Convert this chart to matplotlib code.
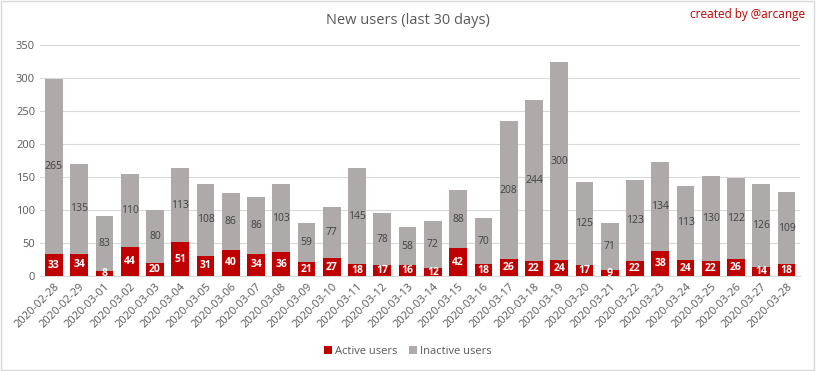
import matplotlib
matplotlib.use("Agg")
import matplotlib.pyplot as plt
import numpy as np

dates = ["2020-02-28", "2020-02-29", "2020-03-01", "2020-03-02", "2020-03-03", "2020-03-04",
         "2020-03-05", "2020-03-06", "2020-03-07", "2020-03-08", "2020-03-09", "2020-03-10",
         "2020-03-11", "2020-03-12", "2020-03-13", "2020-03-14", "2020-03-15", "2020-03-16",
         "2020-03-17", "2020-03-18", "2020-03-19", "2020-03-20", "2020-03-21", "2020-03-22",
         "2020-03-23", "2020-03-24", "2020-03-25", "2020-03-26", "2020-03-27", "2020-03-28"]
active = [33, 34, 8, 44, 20, 51, 31, 40, 34, 36, 21, 27, 18, 17, 16, 12, 42, 18,
          26, 22, 24, 17, 9, 22, 38, 24, 22, 26, 14, 18]
inactive = [265, 135, 83, 110, 80, 113, 108, 86, 86, 103, 59, 77, 145, 78, 58, 72, 88, 70,
            208, 244, 300, 125, 71, 123, 134, 113, 130, 122, 126, 109]
yticks = [0, 50, 100, 150, 200, 250, 300, 350]

plt.rcParams['font.family'] = ['Open Sans', 'DejaVu Sans']
RED = "#C00000"
GRAY = "#AEAAAA"
TXT = "#595959"

fig = plt.figure(figsize=(8.16, 3.71), dpi=100)
ax = fig.add_axes([0.049, 0.256, 0.932, 0.623])

x = np.arange(len(dates))
b1 = ax.bar(x, active, width=0.7, color=RED, label="Active users", zorder=3)
b2 = ax.bar(x, inactive, width=0.7, bottom=active, color=GRAY, label="Inactive users", zorder=3)

for xi, a, ina in zip(x, active, inactive):
    ax.text(xi, a / 2, str(a), ha="center", va="center", color="white",
            fontsize=7.5, fontweight="bold", zorder=4)
    ax.text(xi, a + ina / 2, str(ina), ha="center", va="center", color="#404040",
            fontsize=7.5, zorder=4)

ax.set_ylim(0, 350)
ax.set_xlim(-0.55, len(dates) - 0.45)
ax.set_yticks(yticks)
ax.set_xticks(x)
ax.set_xticklabels(dates, rotation=45, ha="right", rotation_mode="anchor")
ax.tick_params(axis="both", length=0, colors=TXT, labelsize=8)
ax.tick_params(axis="x", pad=4)
ax.grid(axis="y", color="#D9D9D9", linewidth=0.8, zorder=0)
for s in ["top", "right", "left"]:
    ax.spines[s].set_visible(False)
ax.spines["bottom"].set_color("#D9D9D9")

fig.text(0.5, 0.945, "New users (last 30 days)", ha="center", va="center",
         fontsize=10.5, color=TXT)
fig.text(0.987, 0.962, "created by @arcange", ha="right", va="center",
         fontsize=8.5, color=RED)

fig.legend(handles=[b1, b2], loc="center", bbox_to_anchor=(0.5, 0.052), ncol=2,
           frameon=False, fontsize=8, handlelength=0.7, handleheight=0.7,
           handletextpad=0.3, columnspacing=1.0, labelcolor=TXT)

fig.patches.append(plt.Rectangle((0.001, 0.002), 0.997, 0.995, transform=fig.transFigure,
                                 fill=False, edgecolor="#D9D9D9", linewidth=1))

fig.savefig("out.png", dpi=100)
